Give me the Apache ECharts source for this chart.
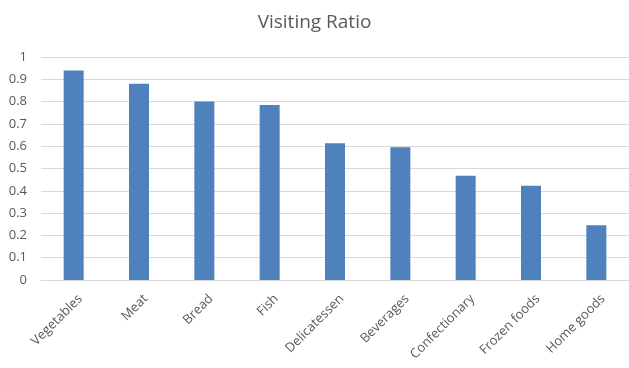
<!DOCTYPE html>
<html><head><meta charset="utf-8">
<script src="https://cdn.jsdelivr.net/npm/echarts@6/dist/echarts.min.js"></script>
<style>html,body{margin:0;padding:0;background:#fff}#c{width:629px;height:368px}</style>
</head><body><div id="c"></div>
<script>
const categories = ['Vegetables','Meat','Bread','Fish','Delicatessen','Beverages','Confectionary','Frozen foods','Home goods'];
const values = [0.94, 0.88, 0.80, 0.785, 0.613, 0.595, 0.468, 0.423, 0.245];
const yTicks = [0, 0.1, 0.2, 0.3, 0.4, 0.5, 0.6, 0.7, 0.8, 0.9, 1];
const chart = echarts.init(document.getElementById('c'), null, {renderer:'canvas'});
chart.setOption({
  animation:false,
  title:{text:'Visiting Ratio', left:'center', top:8, textStyle:{fontFamily:'Open Sans', fontSize:19, fontWeight:'normal', color:'#595959'}},
  grid:{left:41, right:-3, top:57, bottom:88},
  xAxis:{type:'category', data:categories,
    axisLine:{show:true, lineStyle:{color:'#d9d9d9'}}, axisTick:{show:false},
    axisLabel:{rotate:45, interval:0, color:'#595959', fontFamily:'Open Sans', fontSize:13, margin:10,
      verticalAlign:'top', padding:[3,0,0,0]}},
  yAxis:{type:'value', min:0, max:1, interval:0.1,
    axisLine:{show:false}, axisTick:{show:false},
    splitLine:{lineStyle:{color:'#d9d9d9'}},
    axisLabel:{color:'#595959', fontFamily:'Open Sans', fontSize:13, margin:14,
      formatter:v=>{const t=yTicks.find(x=>Math.abs(x-v)<1e-6); return String(t!==undefined?t:v);}}},
  series:[{type:'bar', data:values, barWidth:20, itemStyle:{color:'#4f81bd'}}]
});
</script></body></html>
